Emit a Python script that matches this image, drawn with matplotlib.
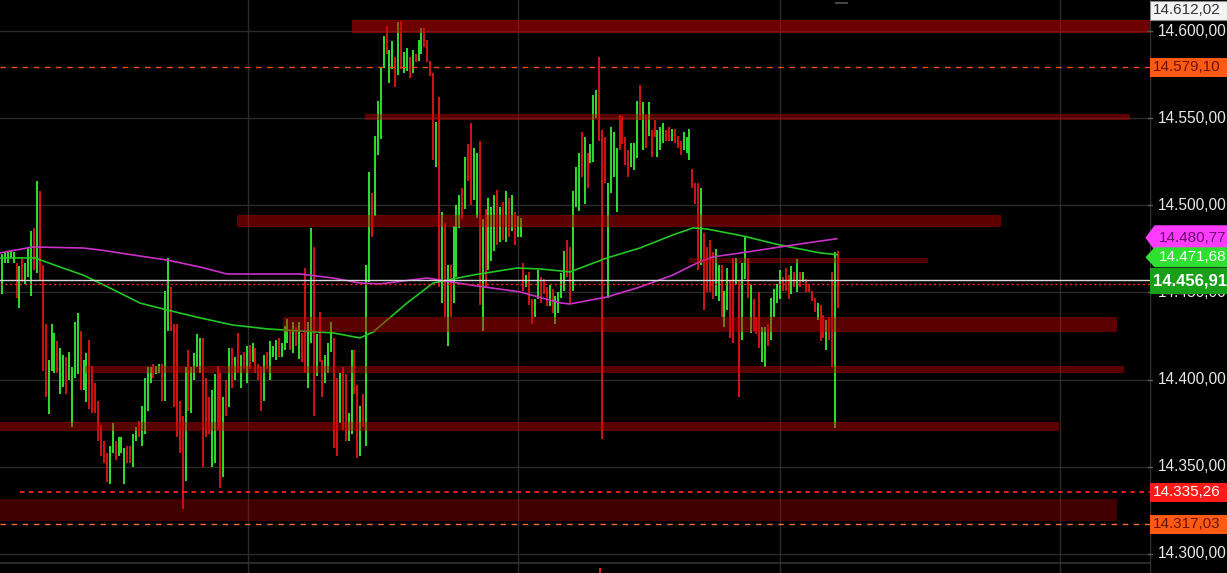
import matplotlib
matplotlib.use("Agg")
import matplotlib.pyplot as plt
from matplotlib.patches import Rectangle, Polygon
from matplotlib.transforms import blended_transform_factory

plt.rcParams['font.family'] = ['Liberation Sans', 'DejaVu Sans']

# ---------------- data ----------------
high = [14472, 14473, 14474, 14474, 14473, 14467, 14465, 14470, 14467, 14476,
        14485, 14487, 14514, 14508, 14466, 14432, 14411, 14432, 14427, 14422,
        14418, 14414, 14413, 14416, 14407, 14433, 14438, 14428, 14411, 14415,
        14423, 14408, 14398, 14388, 14374, 14365, 14358, 14362, 14375, 14365,
        14367, 14367, 14361, 14362, 14362, 14369, 14373, 14376, 14385, 14401,
        14407, 14407, 14409, 14408, 14409, 14409, 14451, 14470, 14453, 14432,
        14432, 14388, 14379, 14407, 14417, 14407, 14415, 14426, 14424, 14424,
        14401, 14390, 14394, 14403, 14408, 14404, 14390, 14400, 14418, 14418,
        14413, 14427, 14414, 14416, 14419, 14420, 14421, 14418, 14409, 14407,
        14414, 14416, 14422, 14419, 14423, 14424, 14421, 14431,
        14435, 14428, 14433, 14430, 14433, 14427, 14464, 14433, 14487, 14476,
        14426, 14439, 14411, 14414, 14421, 14433, 14424, 14401, 14404, 14407,
        14403, 14381, 14417, 14417, 14397, 14385, 14392, 14466, 14519, 14507,
        14540, 14560, 14579, 14597, 14603, 14589, 14594, 14585, 14605, 14606,
        14588, 14590, 14585, 14589, 14587, 14595, 14602,
        14602, 14595, 14583, 14576, 14548, 14562, 14496, 14490, 14466, 14466,
        14488, 14500, 14506, 14510, 14528, 14535, 14547, 14533, 14530, 14537,
        14492, 14498, 14504, 14499, 14506, 14509, 14499, 14502, 14508, 14504,
        14506, 14496, 14494, 14493, 14467, 14460, 14462, 14446, 14446, 14463,
        14459, 14458, 14453, 14454, 14452, 14448, 14450,
        14461, 14474, 14480, 14476, 14508, 14522, 14530, 14542, 14539, 14530,
        14535, 14563, 14566, 14585, 14543, 14539, 14513, 14545, 14542, 14533,
        14552, 14551, 14539, 14532, 14536, 14536, 14560, 14569, 14559, 14552,
        14559, 14543, 14549, 14543, 14545, 14547, 14543, 14545, 14544, 14544,
        14540, 14537, 14542, 14539, 14544, 14521, 14513, 14513,
        14510, 14484, 14476, 14480, 14473, 14475, 14466, 14466, 14451, 14464,
        14457, 14470, 14470, 14457, 14467, 14482, 14470, 14454, 14446, 14436,
        14450, 14430, 14430, 14432, 14447, 14452, 14455, 14463, 14459, 14464,
        14460, 14465, 14462, 14469, 14462, 14462, 14458, 14455, 14451, 14447,
        14444, 14443, 14437, 14434, 14436, 14462, 14473, 14474]

low = [14449, 14467, 14467, 14470, 14467, 14447, 14441, 14456, 14455, 14459,
       14448, 14463, 14461, 14457, 14405, 14390, 14380, 14405, 14404, 14404,
       14392, 14396, 14392, 14400, 14373, 14401, 14403, 14394, 14394, 14387,
       14383, 14381, 14381, 14365, 14356, 14352, 14341, 14340, 14358, 14354,
       14356, 14358, 14340, 14352, 14352, 14350, 14365, 14367, 14362, 14369,
       14382, 14398, 14401, 14403, 14404, 14388, 14388, 14428, 14428, 14384,
       14367, 14358, 14326, 14342, 14382, 14381, 14400, 14407, 14404, 14350,
       14367, 14369, 14350, 14352, 14371, 14338, 14344, 14379, 14384, 14395,
       14400, 14404, 14395, 14406, 14398, 14406, 14410, 14404, 14400, 14382,
       14388, 14406, 14400, 14413, 14411, 14413, 14413, 14417,
       14421, 14417, 14415, 14419, 14412, 14410, 14404, 14395, 14421, 14379,
       14402, 14410, 14390, 14398, 14404, 14416, 14361, 14356, 14375, 14371,
       14365, 14365, 14369, 14392, 14355, 14356, 14373, 14362, 14456, 14482,
       14494, 14529, 14538, 14579, 14587, 14570, 14578, 14568, 14575, 14578,
       14576, 14577, 14573, 14576, 14582, 14583, 14587,
       14591, 14582, 14574, 14526, 14522, 14453, 14444, 14436, 14419, 14436,
       14444, 14459, 14487, 14492, 14498, 14514, 14500, 14503, 14493, 14443,
       14428, 14453, 14463, 14468, 14474, 14477, 14479, 14480, 14479, 14482,
       14485, 14477, 14482, 14482, 14451, 14453, 14443, 14432, 14436, 14446,
       14444, 14449, 14442, 14442, 14438, 14432, 14438,
       14447, 14451, 14459, 14444, 14451, 14499, 14497, 14516, 14501, 14510,
       14524, 14525, 14550, 14537, 14366, 14513, 14447, 14507, 14516, 14496,
       14532, 14535, 14523, 14516, 14522, 14520, 14527, 14549, 14532, 14533,
       14540, 14528, 14539, 14528, 14532, 14536, 14537, 14537, 14537, 14536,
       14533, 14529, 14532, 14530, 14526, 14510, 14501, 14463,
       14466, 14440, 14450, 14450, 14446, 14448, 14445, 14436, 14430, 14440,
       14424, 14421, 14455, 14390, 14423, 14458, 14447, 14427, 14428, 14426,
       14418, 14410, 14407, 14419, 14423, 14436, 14444, 14446, 14451, 14451,
       14446, 14449, 14453, 14450, 14453, 14456, 14450, 14450, 14445, 14439,
       14434, 14422, 14424, 14417, 14423, 14407, 14372, 14441]

# bar direction: G = up (green), R = down (red)
direction = ("GGGGGRGRGG" "GRGRRRGGGR" "GGRGGGGRGG" "RRRRRRRGGR" "GGGRRGGRGG"
             "GGRGGRGGRR" "RRRGRGGGGR" "RRGGRRGRGR" "GRGRGRGRRR" "GRGGGRGG"
             "GRGRGRRGGR" "GRRGGGRRGR" "RGGRRGRGGR" "GGGGRGGRGR" "GGRGRGG"
             "RRRRGRGRGR" "GGGRGRRGGR" "GRGGGRGRGR" "GRGGRGRRGG" "RRRGRGG"
             "GGRRGGGRGR" "GGGRRRGGGG" "RRRRGGGRGR" "GRRGGGRRGR" "RRGGGRRR"
             "GRRRRGGRGG" "RRGRGGRGRR" "RGGRGGGGRR" "RGRGRGRRRR" "GRRGRRGR")

# moving averages (knots: bar index, price)
ma_green_idx = [-0.7, 11.3, 19.9, 27.8, 33.6, 47.4, 56.6, 68.0, 79.3, 91.0,
                102.3, 113.6, 122.9, 127.4, 139.0, 148.0, 161.7, 176.8, 184.7,
                195.0, 207.7, 219.0, 230.3, 237.2, 242.0, 254.4, 267.1, 280.8, 286.6]
ma_green_val = [14469.8, 14469.8, 14464.6, 14460.0, 14455.4, 14443.9, 14440.0,
                14435.4, 14431.3, 14429.1, 14427.9, 14426.8, 14423.9, 14427.3,
                14443.9, 14455.4, 14460.0, 14464.0, 14463.5, 14461.8, 14469.8,
                14475.5, 14483.0, 14487.0, 14486.4, 14482.4, 14477.2, 14472.7, 14471.7]
ma_mag_idx = [-0.7, 10.6, 27.8, 33.6, 45.0, 56.6, 68.0, 77.2, 91.0, 102.3, 113.6,
              122.9, 129.8, 145.9, 160.7, 177.8, 191.6, 195.0, 207.7, 219.0,
              230.3, 238.6, 244.1, 255.8, 267.1, 278.4, 286.6]
ma_mag_val = [14472.7, 14476.1, 14475.5, 14474.4, 14471.5, 14468.6, 14464.6,
              14460.6, 14460.6, 14460.6, 14458.3, 14455.4, 14454.9, 14458.3,
              14454.3, 14450.3, 14444.0, 14443.4, 14447.4, 14453.1, 14460.0,
              14466.9, 14470.4, 14473.2, 14476.1, 14478.9, 14480.8]

# support / resistance zones: (bottom price, top price, start bar, end bar)
zone_low   = [14599.0, 14549.0, 14487.6, 14466.9, 14427.3, 14403.8, 14370.5, 14318.9]
zone_high  = [14606.3, 14552.5, 14494.5, 14469.8, 14436.0, 14407.8, 14375.7, 14331.5]
zone_start = [120.2, 124.6, 80.7, 236.0, 96.5, 28.5, -0.7, -0.7]
zone_end   = [394.1, 387.2, 343.0, 318.0, 382.8, 385.2, 362.9, 382.8]

tick_vals = [14600, 14550, 14500, 14450, 14400, 14350, 14300]
tick_labels = ["14.600,00", "14.550,00", "14.500,00", "14.450,00",
               "14.400,00", "14.350,00", "14.300,00"]

level_579 = 14579.10
level_335 = 14335.26
level_317 = 14317.03
last_price = 14456.91
close_line = 14454.7
ma_mag_last = 14480.77
ma_green_last = 14471.68
top_price = 14612.02

vgrid_idx = [84.4, 177.1, 267.1, 363.2]

# ---------------- figure ----------------
W, H = 1227, 573
fig = plt.figure(figsize=(W / 100, H / 100), dpi=100, facecolor="black")
PW = 1150
ax = fig.add_axes([0, 0, PW / W, 1])
axr = fig.add_axes([PW / W, 0, (W - PW) / W, 1])

YMIN, YMAX = 14289.04, 14617.79
XMIN, XMAX = -0.69, 394.1
for a in (ax, axr):
    a.set_facecolor("black")
    a.set_ylim(YMIN, YMAX)
    a.set_xticks([])
    a.set_yticks([])
    for s in a.spines.values():
        s.set_visible(False)
ax.set_xlim(XMIN, XMAX)
axr.set_xlim(0, 1)

# grid
for v in tick_vals:
    ax.axhline(v, color="#2b2b2b", lw=1.0, zorder=0)
for v in vgrid_idx:
    ax.axvline(v, color="#2b2b2b", lw=1.0, zorder=0)
ax.axhline(14294.8, color="#333333", lw=1.2, zorder=0)

# bars
n = len(high)
xs = list(range(n))
gx = [i for i in xs if direction[i] == "G"]
rx = [i for i in xs if direction[i] == "R"]
ax.vlines(gx, [low[i] for i in gx], [high[i] for i in gx], color="#30e830", lw=1.35, zorder=2)
ax.vlines(rx, [low[i] for i in rx], [high[i] for i in rx], color="#dc1414", lw=1.35, zorder=2)

# moving averages
ax.plot(ma_green_idx, ma_green_val, color="#22c822", lw=1.2, zorder=3)
ax.plot(ma_mag_idx, ma_mag_val, color="#c832c8", lw=1.2, zorder=3)

# zones (semi-transparent, on top of bars)
zone_alpha = [0.55, 0.45, 0.48, 0.40, 0.45, 0.45, 0.45, 0.32]
for lo, hi, s, e, al in zip(zone_low, zone_high, zone_start, zone_end, zone_alpha):
    ax.add_patch(Rectangle((s, lo), e - s, hi - lo, facecolor="#c80000",
                           edgecolor="none", alpha=al, zorder=4))

# horizontal levels
ax.axhline(level_579, color="#ff4a1a", lw=1.0, ls=(0, (4, 4)), zorder=5)
ax.hlines(level_335, 6.2, XMAX, color="#ff2020", lw=1.3, ls=(0, (2.5, 2.5)), zorder=5)
ax.axhline(level_317, color="#ff6a3a", lw=1.0, ls=(0, (4, 4)), zorder=5)
ax.axhline(last_price, color="#d8d8d8", lw=1.0, zorder=5)
ax.axhline(close_line, color="#ff2020", lw=1.0, ls=(0, (1.5, 2)), zorder=5)

# small marks
ax.vlines(205.3, YMIN, 14292.0, color="#ff2020", lw=1.3, zorder=5)
ax.hlines(YMAX - 1.5, 286.0, 290.5, color="#555555", lw=1.2, zorder=5)

# ---------------- right price panel ----------------
axr.axvline(0.0, color="#333333", lw=1.0)
tr = blended_transform_factory(axr.transAxes, axr.transData)
for v, lab in zip(tick_vals, tick_labels):
    axr.plot([-0.03, 0.03], [v, v], color="#555555", lw=1.0, transform=tr, clip_on=False)
    axr.text(0.10, v, lab, color="#e8e8e8", fontsize=11.2, va="center", ha="left",
             transform=tr, zorder=2, clip_on=True)

PX = 1.743  # pixels per price unit


def box(yc, h_px, face, text, tcolor, edge="none", bold=False, fs=11.0, arrow=False, z=5):
    h = h_px / PX / 2
    if arrow:
        pts = [(-0.06, yc), (0.06, yc + h), (1.0, yc + h), (1.0, yc - h), (0.06, yc - h)]
    else:
        pts = [(0.0, yc + h), (1.0, yc + h), (1.0, yc - h), (0.0, yc - h)]
    axr.add_patch(Polygon(pts, closed=True, facecolor=face, edgecolor=edge, lw=0.8,
                          transform=tr, clip_on=False, zorder=z))
    axr.text(0.04 if not arrow else 0.12, yc, text, color=tcolor, fontsize=fs,
             fontweight="bold" if bold else "normal", va="center", ha="left",
             transform=tr, zorder=z + 0.5, clip_on=True)


box(top_price, 19, "#f4f4f4", "14.612,02", "#333333", edge="#888888")
box(level_579, 19, "#ff5a14", "14.579,10", "#6a1200")
box(ma_mag_last + 0.6, 25, "#ff3cff", "14.480,77", "#6a0a6a", arrow=True, z=5)
box(ma_green_last - 1.5, 20, "#30e030", "14.471,68", "#ffffff", arrow=True, z=6)
box(last_price - 0.5, 26, "#18a018", "14.456,91", "#ffffff", bold=True, fs=12, z=7)
box(level_335, 19, "#ff1a1a", "14.335,26", "#ffffff")
box(level_317, 19, "#ff5a14", "14.317,03", "#6a1200")

fig.savefig("out.png", dpi=100, facecolor="black")
